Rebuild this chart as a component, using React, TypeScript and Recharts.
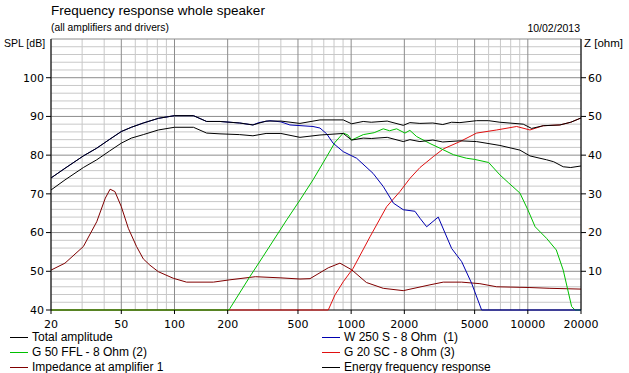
import React from "react";
import {
  LineChart,
  Line,
  XAxis,
  YAxis,
  CartesianGrid,
} from "recharts";

type Pt = [number, number];

// frequency axis
const freqTicks = [20, 50, 100, 200, 500, 1000, 2000, 5000, 10000, 20000];
const freqMinor = [30, 40, 60, 70, 80, 90, 300, 400, 600, 700, 800, 900, 3000, 4000, 6000, 7000, 8000, 9000];
const splTicks = [40, 50, 60, 70, 80, 90, 100];
const ohmTicks = [10, 20, 30, 40, 50, 60];
const splMajor = [50, 60, 70, 80, 90, 100, 110];
const splMinor = [42, 44, 46, 48, 52, 54, 56, 58, 62, 64, 66, 68, 72, 74, 76, 78, 82, 84, 86, 88, 92, 94, 96, 98, 102, 104, 106, 108];
const splBase = [40];

// series, [Hz, dB] or [Hz, ohm]
const totalAmplitude: Pt[] = [
  [20, 74.1], [24, 76.6], [30.5, 79.8], [36.3, 81.8], [43, 84.1], [50, 86.1], [57, 87.2],
  [66.6, 88.3], [81, 89.5], [100, 90.2], [128, 90.2], [152, 88.7], [181, 88.7], [234, 88.3],
  [278, 87.8], [330, 88.8], [400, 88.8], [513, 88.2], [666, 89.1], [902, 89.1], [1006, 88.1],
  [1170, 88.7], [1300, 88.5], [1600, 88.8], [1972, 87.7], [2150, 88.4], [2450, 88.2],
  [2900, 88.3], [3300, 87.9], [3700, 88.5], [4128, 88.4], [5132, 88.9], [6000, 88.9],
  [6952, 88.5], [9422, 88.0], [10508, 86.9], [12220, 87.6], [15197, 87.8], [17500, 88.5],
  [20000, 89.6],
];

const energyResponse: Pt[] = [
  [20, 71.0], [24, 73.6], [30.5, 76.8], [36.3, 78.8], [43, 81.1], [50, 83.1], [57, 84.4],
  [66.6, 85.3], [81, 86.5], [100, 87.2], [128, 87.2], [152, 85.7], [181, 85.5], [234, 85.3],
  [278, 85.0], [330, 85.6], [400, 85.6], [513, 84.6], [666, 85.2], [902, 85.6], [1006, 83.9],
  [1170, 84.4], [1300, 84.3], [1600, 84.6], [1972, 83.5], [2150, 84.0], [2450, 83.5],
  [2900, 83.9], [3300, 83.4], [4128, 83.7], [5132, 83.5], [6952, 82.5], [9023, 81.3],
  [10279, 79.8], [12775, 78.8], [14000, 78.3], [15866, 77.0], [17500, 76.8], [20000, 77.2],
];

const woofer: Pt[] = [
  [20, 74.1], [24, 76.6], [30.5, 79.8], [36.3, 81.8], [43, 84.1], [50, 86.1], [57, 87.2],
  [66.6, 88.3], [81, 89.5], [100, 90.2], [128, 90.2], [152, 88.7], [181, 88.7], [234, 88.3],
  [278, 87.8], [300, 88.4], [347, 88.9], [400, 88.6], [450, 87.8], [608, 87.4], [666, 87.0],
  [727, 85.5], [790, 83.1], [902, 80.9], [1074, 79.2], [1330, 75.3], [1520, 71.9],
  [1735, 67.6], [1972, 65.9], [2296, 65.5], [2452, 63.7], [2675, 61.5], [3111, 64.0],
  [3705, 55.9], [4221, 52.5], [4808, 46.9], [5476, 40], [20000, 40],
];

const midrange: Pt[] = [
  [20, 40], [204, 40], [206, 40.4], [267, 48.6], [318, 53.9], [432, 63.3], [513, 68.4],
  [608, 73.6], [727, 79.6], [810, 83.3], [902, 85.7], [960, 85.2], [1006, 83.9], [1171, 85.3],
  [1350, 85.8], [1520, 86.8], [1650, 86.3], [1809, 86.8], [2016, 85.7], [2150, 86.4],
  [2348, 84.8], [2793, 83.0], [3180, 81.8], [3800, 80.1], [4500, 79.2], [5000, 78.9],
  [6000, 78.1], [6950, 74.9], [7800, 72.8], [9023, 70.2], [10000, 65.9], [11000, 61.5],
  [12775, 58.5], [14500, 55.5], [15866, 50.3], [17700, 40.9], [18500, 40], [20000, 40],
];

const tweeter: Pt[] = [
  [20, 40], [742, 40], [810, 43.9], [902, 47.3], [1027, 50.8], [1278, 58.9], [1589, 66.7],
  [1889, 70.6], [2152, 74.0], [2452, 76.8], [2915, 79.6], [3321, 81.6], [4128, 83.5],
  [5132, 85.7], [6661, 86.5], [8644, 87.4], [10279, 86.5], [12220, 87.6], [15197, 87.8],
  [17500, 88.5], [20000, 89.6],
];

const impedance: Pt[] = [
  [20, 10.3], [24, 12.1], [30.5, 16.4], [36.3, 22.8], [40.6, 28.9], [43.2, 31.2], [46, 30.6],
  [50, 26.7], [54.8, 21.1], [61, 16.4], [66.6, 13.2], [72.5, 11.6], [81, 9.9], [98.4, 8.2],
  [117, 7.2], [166, 7.2], [206, 7.8], [287, 8.6], [400, 8.3], [513, 8.0], [585, 8.1],
  [742, 10.9], [864, 12.1], [1006, 10.4], [1220, 7.1], [1520, 5.6], [1972, 5.0], [2793, 6.5],
  [3321, 7.2], [4221, 7.2], [5356, 6.8], [6661, 6.0], [10279, 5.8], [13340, 5.6], [20000, 5.4],
];

const BLACK = "#000000";
const BLUE = "#0000b0";
const GREEN = "#00c000";
const RED = "#e01010";
const MAROON = "#800000";

const font = "'Liberation Sans', Arial, sans-serif";
const numFont = "'DejaVu Sans', sans-serif";

const toRows = (arr: Pt[]) => arr.map(([f, v]) => ({ f, v }));

const legendLeft = [
  { name: "Total amplitude", color: BLACK },
  { name: "G 50 FFL - 8 Ohm (2)", color: GREEN },
  { name: "Impedance at amplifier 1", color: MAROON },
];
const legendRight = [
  { name: "W 250 S - 8 Ohm  (1)", color: BLUE },
  { name: "G 20 SC - 8 Ohm (3)", color: RED },
  { name: "Energy frequency response", color: BLACK },
];

function LegendCol({ items, x }: { items: { name: string; color: string }[]; x: number }) {
  return (
    <>
      {items.map((it, i) => (
        <div
          key={it.name}
          style={{
            position: "absolute",
            left: x,
            top: 330 + i * 15,
            height: 14,
            display: "flex",
            alignItems: "center",
            fontSize: 12,
            whiteSpace: "pre",
          }}
        >
          <span style={{ display: "inline-block", width: 18, height: 1, background: it.color, marginRight: 4 }} />
          {it.name}
        </div>
      ))}
    </>
  );
}

const tickStyle = { fontSize: 11, fill: "#000", fontFamily: numFont };

export default function App() {
  return (
    <div
      style={{
        position: "absolute",
        left: 0,
        top: 0,
        width: 629,
        height: 373,
        background: "#fff",
        fontFamily: font,
        color: "#000",
        overflow: "hidden",
      }}
    >
      <div style={{ position: "absolute", left: 51, top: 3, fontSize: 13.5 }}>Frequency response whole speaker</div>
      <div style={{ position: "absolute", left: 51, top: 22, fontSize: 10.3 }}>(all amplifiers and drivers)</div>
      <div style={{ position: "absolute", right: 49, top: 22, fontSize: 10.5 }}>10/02/2013</div>
      <div style={{ position: "absolute", left: 4, top: 37, fontSize: 10.5 }}>SPL [dB]</div>
      <div style={{ position: "absolute", left: 584, top: 37, fontSize: 11.5 }}>Z [ohm]</div>

      <LineChart width={629} height={373} margin={{ top: 39, right: 0, bottom: 0, left: 0 }}>
        <CartesianGrid
          yAxisId="spl"
          horizontalValues={splMinor}
          verticalValues={freqMinor}
          stroke="#c8c8c8"
        />
        <CartesianGrid
          yAxisId="spl"
          horizontalValues={splMajor}
          verticalValues={freqTicks}
          stroke="#8c8c8c"
        />
        <CartesianGrid
          yAxisId="spl"
          horizontalValues={splBase}
          vertical={false}
          stroke="#000"
        />
        <XAxis
          dataKey="f"
          type="number"
          scale="log"
          domain={[20, 20000]}
          ticks={freqTicks}
          height={63}
          tickSize={4}
          tickMargin={6}
          tick={tickStyle}
          axisLine={false}
          tickLine={{ stroke: "#000" }}
          interval={0}
        />
        <YAxis
          yAxisId="spl"
          orientation="left"
          domain={[40, 110]}
          ticks={splTicks}
          width={51}
          tickSize={5}
          tickMargin={2}
          tick={tickStyle}
          axisLine={{ stroke: "#000" }}
          tickLine={{ stroke: "#000" }}
          interval={0}
        />
        <YAxis
          yAxisId="z"
          orientation="right"
          domain={[0, 70]}
          ticks={ohmTicks}
          width={48}
          tickSize={5}
          tickMargin={2}
          tick={tickStyle}
          axisLine={{ stroke: "#000" }}
          tickLine={{ stroke: "#000" }}
          interval={0}
        />
        <Line yAxisId="z" data={toRows(impedance)} dataKey="v" name="Impedance at amplifier 1" stroke={MAROON} strokeWidth={1} dot={false} isAnimationActive={false} />
        <Line yAxisId="spl" data={toRows(tweeter)} dataKey="v" name="G 20 SC - 8 Ohm (3)" stroke={RED} strokeWidth={1} dot={false} isAnimationActive={false} />
        <Line yAxisId="spl" data={toRows(midrange)} dataKey="v" name="G 50 FFL - 8 Ohm (2)" stroke={GREEN} strokeWidth={1} dot={false} isAnimationActive={false} />
        <Line yAxisId="spl" data={toRows(woofer)} dataKey="v" name="W 250 S - 8 Ohm (1)" stroke={BLUE} strokeWidth={1} dot={false} isAnimationActive={false} />
        <Line yAxisId="spl" data={toRows(energyResponse)} dataKey="v" name="Energy frequency response" stroke={BLACK} strokeWidth={1} dot={false} isAnimationActive={false} />
        <Line yAxisId="spl" data={toRows(totalAmplitude)} dataKey="v" name="Total amplitude" stroke={BLACK} strokeWidth={1} dot={false} isAnimationActive={false} />
      </LineChart>

      <LegendCol items={legendLeft} x={10} />
      <LegendCol items={legendRight} x={322} />
    </div>
  );
}
